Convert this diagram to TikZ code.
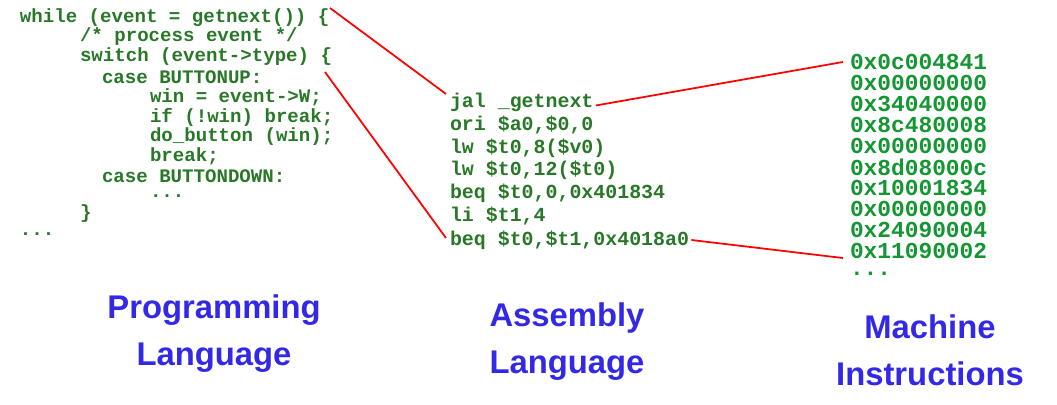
\documentclass[tikz,border=0pt]{standalone}
\usepackage{fontspec}
\setmainfont{Liberation Sans}
\setmonofont{Liberation Mono}
\definecolor{codegreen}{RGB}{40,120,40}
\definecolor{hexgreen}{RGB}{20,150,50}
\definecolor{labelblue}{RGB}{50,40,230}
\begin{document}
\begin{tikzpicture}[x=0.03cm,y=-0.03cm,
    every node/.style={inner sep=0pt, outer sep=0pt, anchor=west},
    src/.style={font=\ttfamily\bfseries\fontsize{16.3}{16}\selectfont, text=codegreen},
    asm/.style={font=\ttfamily\bfseries\fontsize{17}{17}\selectfont, text=codegreen},
    hex/.style={font=\ttfamily\bfseries\fontsize{19.5}{19}\selectfont, text=hexgreen},
    lbl/.style={anchor=center, align=center, font=\bfseries\fontsize{28}{40}\selectfont, text=labelblue},
    link/.style={red, line width=1.5pt}]
    \useasboundingbox (0,0) rectangle (1057,405);
    % programming language
    \node[src](p1) at (20,18) {while (event = getnext()) \{};
    \node[src](p2) at (80,37) {/* process event */};
    \node[src](p3) at (80,57) {switch (event->type) \{};
    \node[src](p4) at (102,77) {case BUTTONUP:};
    \node[src](p5) at (150,97) {win = event->W;};
    \node[src](p6) at (150,117) {if (!win) break;};
    \node[src](p7) at (150,137) {do\_button (win);};
    \node[src](p8) at (150,156) {break;};
    \node[src](p9) at (102,176) {case BUTTONDOWN:};
    \node[src](p10) at (150,196) {...};
    \node[src](p11) at (80,214) {\}};
    \node[src](p12) at (20,234) {...};
    % assembly language
    \node[asm](a1) at (450,102) {jal \_getnext};
    \node[asm](a2) at (450,125) {ori \$a0,\$0,0};
    \node[asm](a3) at (450,148) {lw \$t0,8(\$v0)};
    \node[asm](a4) at (450,170) {lw \$t0,12(\$t0)};
    \node[asm](a5) at (450,193) {beq \$t0,0,0x401834};
    \node[asm](a6) at (450,216) {li \$t1,4};
    \node[asm](a7) at (450,240) {beq \$t0,\$t1,0x4018a0};
    % machine instructions
    \foreach \w [count=\i] in {0x0c004841,0x00000000,0x34040000,0x8c480008,0x00000000,
        0x8d08000c,0x10001834,0x00000000,0x24090004,0x11090002}
        \node[hex](m\i) at (850,41+21*\i) {\w};
    \node[hex](m11) at (850,274) {...};
    % links
    \coordinate (w_end) at (330,8);
    \coordinate (s_end) at (325,72);
    \coordinate (jal_in) at (446,94);
    \coordinate (beq_in) at (446,238);
    \draw[link] (w_end) -- (jal_in);
    \draw[link] (s_end) -- (beq_in);
    \draw[link] ([xshift=2pt,yshift=-3pt]a1.east) -- ([xshift=-6pt]m1.west);
    \draw[link] ([xshift=2pt]a7.east) -- ([xshift=-6pt,yshift=-6pt]m10.west);
    % labels
    \node[lbl](pl) at (214,334) {Programming\\Language};
    \node[lbl](al) at (567,342) {Assembly\\Language};
    \node[lbl](ml) at (930,350) {Machine\\Instructions};
\end{tikzpicture}
\end{document}
